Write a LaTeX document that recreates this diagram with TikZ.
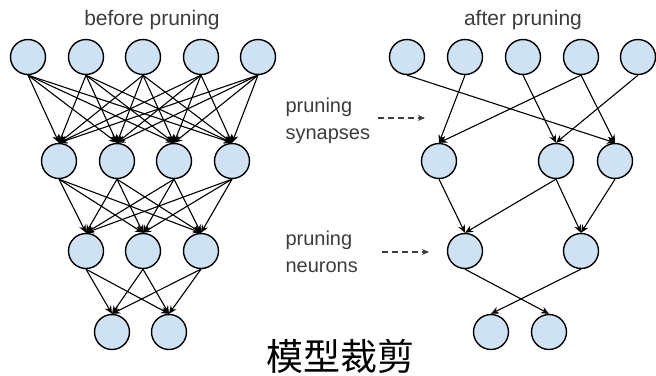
\documentclass[tikz,border=0pt]{standalone}
\usepackage{fontspec}
\setmainfont{Liberation Sans}
\newfontfamily\cjk{Noto Sans CJK SC}
\usetikzlibrary{arrows.meta}

\definecolor{cellblue}{RGB}{207,226,243}
\definecolor{labelgray}{RGB}{60,60,60}

\tikzset{
  neuron/.style={circle,draw=black,line width=1.4pt,fill=cellblue,minimum size=35pt,inner sep=0pt},
  synapse/.style={-{Stealth[length=8pt,width=7pt]},line width=1.1pt},
  hint/.style={-{Stealth[length=7pt,width=6pt]},dash pattern=on 6pt off 4pt,line width=1.2pt,labelgray},
  caption/.style={font=\fontsize{21}{23}\selectfont,text=labelgray},
  note/.style={font=\fontsize{20}{27}\selectfont,text=labelgray,align=left,anchor=west}
}

\begin{document}
\begin{tikzpicture}[x=1pt,y=-1pt]
\useasboundingbox (0,0) rectangle (656,375);

\node[caption] at (152,20) {before pruning};
\node[caption] at (523,20) {after pruning};

% before pruning: every layer fully connected
\foreach \x [count=\i] in {28,86,143,201,258} \node[neuron] (a\i) at (\x,57) {};
\foreach \x [count=\i] in {59,117,174,232} \node[neuron] (b\i) at (\x,161) {};
\foreach \x [count=\i] in {86,143,201} \node[neuron] (c\i) at (\x,251) {};
\foreach \x [count=\i] in {112,169} \node[neuron] (d\i) at (\x,332) {};

\foreach \i in {1,...,5} \foreach \j in {1,...,4} \draw[synapse] (a\i.south) -- (b\j.north);
\foreach \i in {1,...,4} \foreach \j in {1,...,3} \draw[synapse] (b\i.south) -- (c\j.north);
\foreach \i in {1,...,3} \foreach \j in {1,2} \draw[synapse] (c\i.south) -- (d\j.north);

% after pruning
\foreach \x [count=\i] in {407,465,523,581,638} \node[neuron] (p\i) at (\x,57) {};
\node[neuron] (q1) at (439,161) {};
\node[neuron] (q2) at (556,161) {};
\node[neuron] (q3) at (615,161) {};
\node[neuron] (r1) at (465,251) {};
\node[neuron] (r2) at (581,251) {};
\node[neuron] (s1) at (491,332) {};
\node[neuron] (s2) at (549,332) {};

\foreach \u/\v in {p1/q3,p2/q1,p3/q2,p4/q1,p4/q3,p5/q2,q1/r1,q2/r1,q2/r2,q3/r2,r1/s2,r2/s1}
  \draw[synapse] (\u.south) -- (\v.north);

\node[note] (syn) at (282,121) {pruning\\synapses};
\node[note] (neu) at (282,252) {pruning\\neurons};
\coordinate (synend) at (425,118);
\coordinate (neuend) at (429,252);
\draw[hint] (378,118) -- (synend);
\draw[hint] (382,252) -- (neuend);

\node[font=\cjk\fontsize{37}{40}\selectfont] (title) at (340,356) {模型裁剪};
\end{tikzpicture}
\end{document}
